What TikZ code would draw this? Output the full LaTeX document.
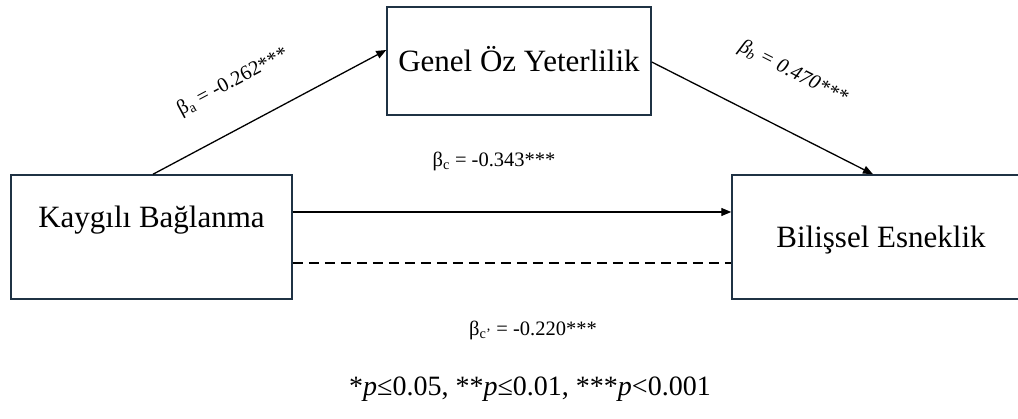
\documentclass[tikz,border=0pt]{standalone}
\usepackage{fontspec}
\setmainfont{Liberation Serif}
\usetikzlibrary{arrows.meta,calc}
\definecolor{boxline}{HTML}{1F3244}
\begin{document}
\begin{tikzpicture}[x=1pt,y=-1pt,
  box/.style={draw=boxline,line width=1.5pt,rectangle,inner sep=0pt,
    font=\fontsize{31}{36}\selectfont,text height=22pt,text depth=0pt},
  arr/.style={line width=1.3pt,-{Triangle[length=10pt,width=8pt]}},
  lab/.style={inner sep=0pt,font=\fontsize{20.5}{24}\selectfont}]
\useasboundingbox (0,0) rectangle (1018,419);
\clip (0,0) rectangle (1018,419);
\fill[white] (0,0) rectangle (1018,419);
\node[box,minimum width=264pt,minimum height=108pt] (gs) at (519,61) {Genel Öz Yeterlilik};
\node[box,minimum width=281pt,minimum height=124pt,text depth=40pt] (kb) at (151.5,237) {Kaygılı Bağlanma};
\node[box,minimum width=298pt,minimum height=124pt] (be) at (881,237) {Bilişsel Esneklik};
\draw[arr] ([xshift=1.5pt]kb.north) -- ([yshift=11pt]gs.west);
\draw[arr] ([yshift=-1pt]gs.east) -- ([xshift=-8pt]be.north);
\draw[arr] ([yshift=25pt]kb.east) -- ([yshift=25pt]be.west);
\draw[line width=1.3pt,dash pattern=on 10pt off 6pt] ([yshift=-26pt]kb.east) -- ([yshift=-26pt]be.west);
\node[lab,rotate=28] (la) at (233,82) {β\textsubscript{a} = -0.262***};
\node[lab,rotate=-27,font=\fontsize{20.5}{24}\selectfont\itshape] (lb) at (793,73) {β\textsubscript{b} = 0.470***};
\node[lab] (lc) at (494,161) {β\textsubscript{c} = -0.343***};
\node[lab] (lcp) at (533,330) {β\textsubscript{c’} = -0.220***};
\node[inner sep=0pt,anchor=base,font=\fontsize{28}{32}\selectfont] (note) at (530,396) {*\textit{p}≤0.05, **\textit{p}≤0.01, ***\textit{p}<0.001};
\end{tikzpicture}
\end{document}
